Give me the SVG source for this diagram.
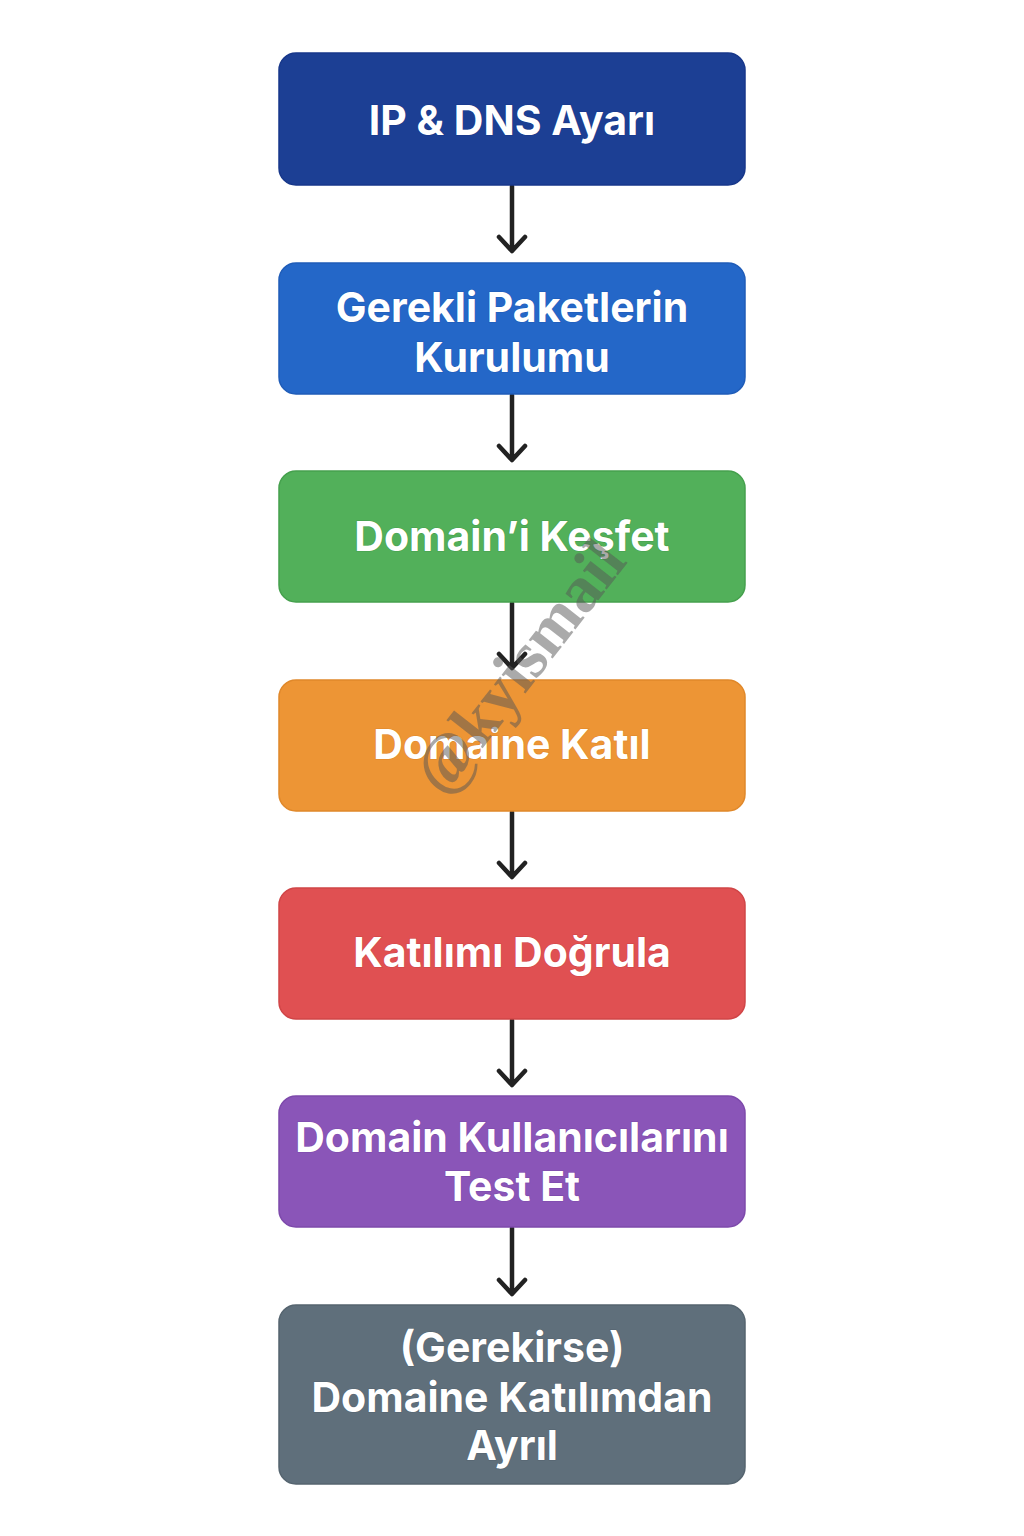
<svg xmlns="http://www.w3.org/2000/svg" width="1024" height="1536" viewBox="0 0 1024 1536">
<style>
.box{stroke-width:1.5}
.lbl{font-family:Inter,"Noto Sans","DejaVu Sans",sans-serif;font-weight:700;font-size:41px;fill:#fff;text-anchor:middle;stroke-width:1.2;paint-order:stroke}
.conn{stroke:#222;stroke-width:4.5;fill:none;stroke-linecap:round;stroke-linejoin:round}
.wm{font-family:"Liberation Serif","DejaVu Serif",serif;font-weight:700;font-size:66px;fill:#555;fill-opacity:0.5;text-anchor:middle}
</style>
<rect width="1024" height="1536" fill="#fff"/>
<g id="connectors">
<path class="conn" d="M512 186V251M499 237L512 251L525 237"/>
<path class="conn" d="M512 395V460M499 446L512 460L525 446"/>
<path class="conn" d="M512 603V668M499 654L512 668L525 654"/>
<path class="conn" d="M512 812V877M499 863L512 877L525 863"/>
<path class="conn" d="M512 1020V1085M499 1071L512 1085L525 1071"/>
<path class="conn" d="M512 1228V1294M499 1280L512 1294L525 1280"/>
</g>
<g id="n1"><rect class="box" x="279" y="53" width="466" height="132" rx="17" fill="#1c3f94" stroke="#17378a"/><text class="lbl" x="512" y="135" stroke="#17378a">IP &amp; DNS Ayarı</text></g>
<g id="n2"><rect class="box" x="279" y="263" width="466" height="131" rx="17" fill="#2467c8" stroke="#1f5cb8"/><text class="lbl" x="512" y="322" stroke="#1f5cb8">Gerekli Paketlerin</text><text class="lbl" x="512" y="372" stroke="#1f5cb8">Kurulumu</text></g>
<g id="n3"><rect class="box" x="279" y="471" width="466" height="131" rx="17" fill="#52b05a" stroke="#45a04d"/><text class="lbl" x="512" y="551" stroke="#45a04d">Domain’i Keşfet</text></g>
<g id="n4"><rect class="box" x="279" y="680" width="466" height="131" rx="17" fill="#ed9535" stroke="#e0882a"/><text class="lbl" x="512" y="759" stroke="#e0882a">Domaine Katıl</text></g>
<g id="n5"><rect class="box" x="279" y="888" width="466" height="131" rx="17" fill="#e05052" stroke="#d04547"/><text class="lbl" x="512" y="967" stroke="#d04547">Katılımı Doğrula</text></g>
<g id="n6"><rect class="box" x="279" y="1096" width="466" height="131" rx="17" fill="#8a55b8" stroke="#7d49ab"/><text class="lbl" x="512" y="1152" stroke="#7d49ab">Domain Kullanıcılarını</text><text class="lbl" x="512" y="1201" stroke="#7d49ab">Test Et</text></g>
<g id="n7"><rect class="box" x="279" y="1305" width="466" height="179" rx="17" fill="#5f6f7b" stroke="#55646f"/><text class="lbl" x="512" y="1362" stroke="#55646f">(Gerekirse)</text><text class="lbl" x="512" y="1412" stroke="#55646f">Domaine Katılımdan</text><text class="lbl" x="512" y="1460" stroke="#55646f">Ayrıl</text></g>
<text class="wm" transform="translate(536 680) rotate(-52)">@kyismail</text>
</svg>
